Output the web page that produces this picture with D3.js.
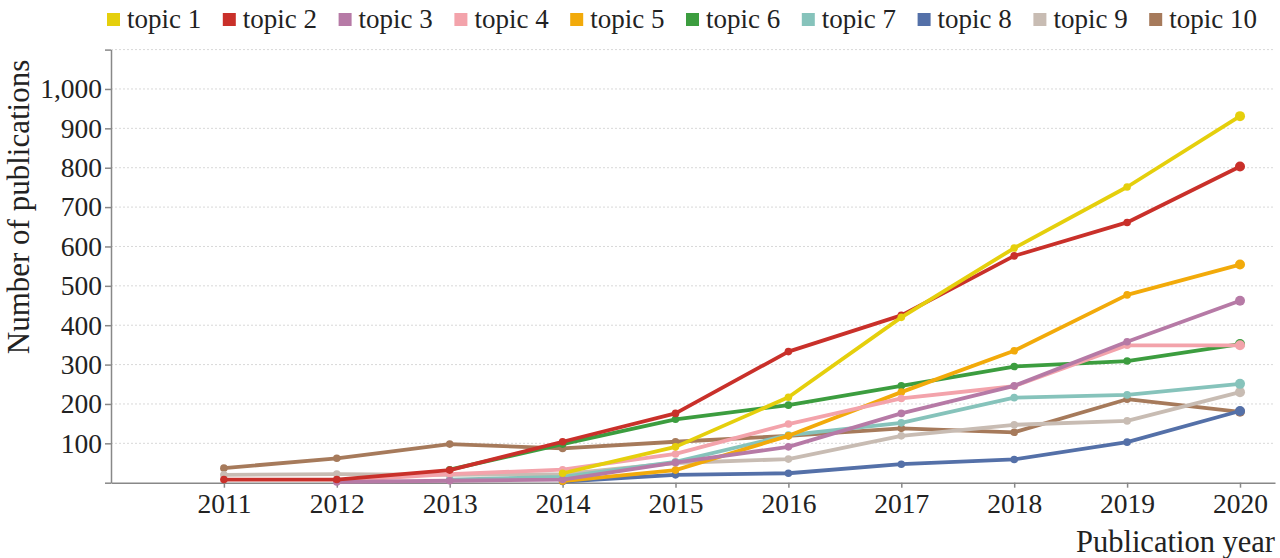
<meta charset='utf-8'>
<script src="https://d3js.org/d3.v7.min.js"></script>
<style>
body { margin: 0; background: #fff; }
text { font-family: 'Liberation Serif', 'Times New Roman', serif; fill: #222; }
</style>
<body></body>
<script>

// DATA
var years = [2011, 2012, 2013, 2014, 2015, 2016, 2017, 2018, 2019, 2020];
var topics = ['topic 1', 'topic 2', 'topic 3', 'topic 4', 'topic 5',
              'topic 6', 'topic 7', 'topic 8', 'topic 9', 'topic 10'];
var colors = ['#e5cf0c', '#c9302a', '#b67aa6', '#f3a3ab', '#f2aa0a',
              '#3c9d3f', '#86c3bb', '#5470a8', '#c8bcb3', '#a67a5b'];
var topic1  = [null, null, null, 24, 91, 217, 420, 596, 751, 931];
var topic2  = [8, 8, 32, 104, 176, 333, 425, 576, 661, 803];
var topic3  = [null, 2, 5, 8, 51, 91, 176, 246, 358, 462];
var topic4  = [null, 5, 22, 33, 73, 149, 214, 245, 349, 349];
var topic5  = [null, null, null, 4, 32, 119, 230, 335, 477, 554];
var topic6  = [null, null, 33, 98, 161, 197, 246, 295, 309, 352];
var topic7  = [null, null, 8, 15, 53, 121, 152, 216, 223, 251];
var topic8  = [null, null, null, 3, 20, 24, 47, 59, 103, 182];
var topic9  = [20, 22, 20, 22, 50, 60, 119, 147, 157, 230];
var topic10 = [37, 62, 98, 87, 104, 119, 138, 128, 212, 180];
var series = [topic1, topic2, topic3, topic4, topic5, topic6, topic7, topic8, topic9, topic10];
var yticks = [100, 200, 300, 400, 500, 600, 700, 800, 900, 1000];

// SETTINGS
var ww = 1280, wh = 558;
var pleft = 111, pright = 1275, ptop = 49.6, pbottom = 482.7;
var svg = d3.select('body').append('svg')
    .attr('width', ww)
    .attr('height', wh);

var x = d3.scaleLinear().domain([2010, 2020.31]).range([pleft, pright]);
var y = d3.scaleLinear().domain([0, 1100]).range([pbottom, ptop]);

// GRID
svg.append('g')
    .selectAll('line')
    .data(d3.range(100, 1101, 100))
    .join('line')
    .attr('x1', pleft).attr('x2', pright)
    .attr('y1', d => y(d)).attr('y2', d => y(d))
    .attr('stroke', '#d8d8d8')
    .attr('stroke-width', 1)
    .attr('stroke-dasharray', '2,2');

// AXES
var xaxis = svg.append('g')
    .attr('transform', 'translate(0,' + pbottom + ')')
    .call(d3.axisBottom(x).tickValues(years).tickFormat(d3.format('d')).tickSizeInner(5).tickSizeOuter(0).tickPadding(6));
xaxis.select('.domain').attr('stroke', '#888').attr('stroke-width', 1.5);
xaxis.selectAll('.tick line').attr('stroke', '#888').attr('stroke-width', 1.5);
xaxis.selectAll('text').attr('font-size', 27.5).attr('font-family', 'Liberation Serif').attr('fill', '#222');

var yaxis = svg.append('g')
    .attr('transform', 'translate(' + pleft + ',0)')
    .call(d3.axisLeft(y).tickValues([0].concat(yticks).concat([1100])).tickFormat(d => (d == 0 || d == 1100) ? '' : d3.format(',')(d)).tickSizeInner(6).tickSizeOuter(0).tickPadding(3));
yaxis.select('.domain').attr('stroke', '#888').attr('stroke-width', 1.5);
yaxis.selectAll('.tick line').attr('stroke', '#888').attr('stroke-width', 1.5);
yaxis.selectAll('text').attr('font-size', 27.5).attr('font-family', 'Liberation Serif').attr('fill', '#222');

svg.append('text')
    .attr('transform', 'translate(29,207) rotate(-90)')
    .attr('text-anchor', 'middle')
    .attr('font-size', 31)
    .text('Number of publications');

svg.append('text')
    .attr('x', pright)
    .attr('y', 552)
    .attr('text-anchor', 'end')
    .attr('font-size', 30.5)
    .text('Publication year');

// LINES (topic 10 drawn first, topic 1 on top)
var line = d3.line()
    .defined(d => d.v != null)
    .x(d => x(d.yr))
    .y(d => y(d.v));

for (var i = series.length - 1; i >= 0; i--) {
    var pts = years.map((yr, j) => ({yr: yr, v: series[i][j]}));
    var g = svg.append('g');
    g.append('path')
        .attr('d', line(pts))
        .attr('fill', 'none')
        .attr('stroke', colors[i])
        .attr('stroke-width', 3.8)
        .attr('stroke-linejoin', 'round');
    g.selectAll('circle')
        .data(pts.filter(d => d.v != null))
        .join('circle')
        .attr('cx', d => x(d.yr))
        .attr('cy', d => y(d.v))
        .attr('r', d => d.yr == 2020 ? 5 : 3.8)
        .attr('fill', colors[i]);
}

// LEGEND
var legend = svg.append('g');
topics.forEach(function (t, i) {
    var lx = 107 + i * 115.8;
    legend.append('rect')
        .attr('x', lx).attr('y', 13)
        .attr('width', 13).attr('height', 13)
        .attr('fill', colors[i]);
    legend.append('text')
        .attr('x', lx + 20).attr('y', 28)
        .attr('font-size', 27)
        .text(t);
});

</script>
